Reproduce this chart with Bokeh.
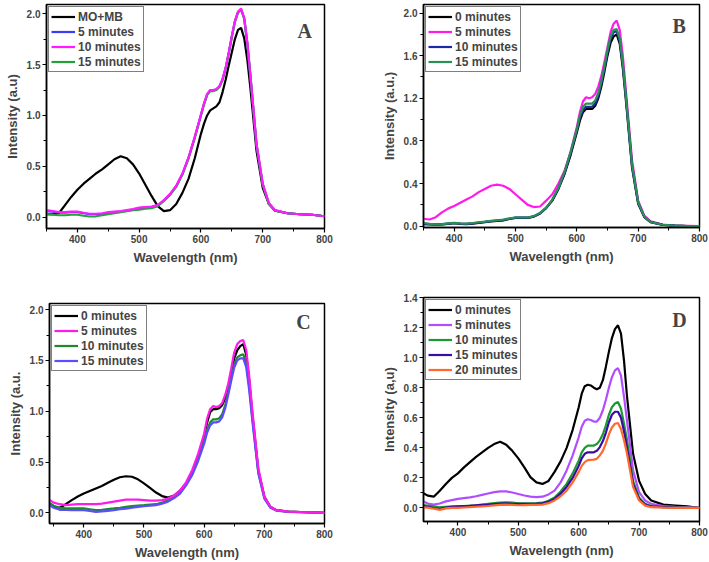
from bokeh.plotting import figure
from bokeh.layouts import column, row
from bokeh.models import Range1d, FixedTicker, PrintfTickFormatter, Legend, LegendItem, Label
from bokeh.embed import file_html
from bokeh.resources import INLINE

# ---------------- data ----------------
WL_AB = [350, 360, 370, 380, 390, 400, 410, 420, 430, 440, 450, 460, 470, 480, 490, 500, 510, 520,
         530, 540, 550, 560, 570, 580, 590,
         600, 605, 610, 615, 620, 625, 630, 635, 640, 645, 650,
         655, 660, 665, 670, 675, 680, 690, 700, 710, 720, 740, 760, 780, 800]
WL_CD = [340] + WL_AB

# Panel A
A_names = ["MO+MB", "5 minutes", "10 minutes", "15 minutes"]
A_momb = [0.03, 0.03, 0.04, 0.12, 0.20, 0.27, 0.33, 0.38, 0.43, 0.47, 0.52, 0.57, 0.60, 0.58, 0.52, 0.43, 0.32, 0.21,
          0.11, 0.06, 0.07, 0.13, 0.24, 0.38, 0.58,
          0.82, 0.92, 1.00, 1.05, 1.07, 1.09, 1.13, 1.23, 1.35, 1.49, 1.62,
          1.75, 1.84, 1.86, 1.76, 1.55, 1.27, 0.65, 0.29, 0.13, 0.065, 0.04, 0.03, 0.025, 0.01]
A_5 = [0.06, 0.055, 0.045, 0.045, 0.05, 0.05, 0.04, 0.03, 0.03, 0.035, 0.045, 0.05, 0.055, 0.065, 0.075, 0.09, 0.095, 0.10,
       0.115, 0.165, 0.225, 0.305, 0.425, 0.585, 0.785,
       1.005, 1.115, 1.205, 1.245, 1.245, 1.255, 1.285, 1.355, 1.465, 1.615, 1.775,
       1.925, 2.015, 2.04, 1.955, 1.715, 1.395, 0.715, 0.325, 0.135, 0.068, 0.04, 0.03, 0.025, 0.01]
A_10 = [0.07, 0.06, 0.05, 0.05, 0.055, 0.055, 0.045, 0.035, 0.035, 0.04, 0.05, 0.055, 0.06, 0.07, 0.08, 0.095, 0.10, 0.105,
        0.12, 0.17, 0.23, 0.31, 0.43, 0.59, 0.79,
        1.01, 1.12, 1.21, 1.25, 1.25, 1.26, 1.29, 1.36, 1.47, 1.62, 1.78,
        1.93, 2.02, 2.05, 1.96, 1.72, 1.40, 0.72, 0.33, 0.14, 0.07, 0.04, 0.03, 0.025, 0.01]
A_15 = [0.03, 0.025, 0.02, 0.02, 0.025, 0.025, 0.015, 0.008, 0.01, 0.02, 0.03, 0.04, 0.05, 0.06, 0.07, 0.075, 0.085, 0.09,
        0.11, 0.16, 0.22, 0.30, 0.42, 0.58, 0.78,
        1.00, 1.11, 1.20, 1.24, 1.24, 1.25, 1.28, 1.35, 1.46, 1.61, 1.77,
        1.92, 2.01, 2.04, 1.95, 1.71, 1.39, 0.71, 0.32, 0.13, 0.065, 0.04, 0.03, 0.025, 0.01]

# Panel B
B_names = ["0 minutes", "5 minutes", "10 minutes", "15 minutes"]
B_0 = [0.02, 0.018, 0.015, 0.016, 0.022, 0.028, 0.022, 0.02, 0.025, 0.032, 0.038, 0.045, 0.05, 0.055, 0.068, 0.078, 0.078, 0.078,
       0.09, 0.12, 0.17, 0.24, 0.35, 0.49, 0.67,
       0.88, 0.99, 1.07, 1.10, 1.10, 1.10, 1.13, 1.20, 1.31, 1.45, 1.60,
       1.72, 1.78, 1.80, 1.71, 1.48, 1.18, 0.55, 0.21, 0.085, 0.038, 0.013, 0.005, 0.002, 0.0]
B_5 = [0.07, 0.063, 0.085, 0.13, 0.165, 0.19, 0.22, 0.25, 0.28, 0.32, 0.35, 0.38, 0.39, 0.38, 0.35, 0.30, 0.25, 0.20,
       0.18, 0.185, 0.24, 0.30, 0.40, 0.52, 0.70,
       0.93, 1.07, 1.17, 1.21, 1.20, 1.21, 1.24, 1.31, 1.41, 1.54, 1.68,
       1.82, 1.90, 1.93, 1.84, 1.60, 1.27, 0.62, 0.24, 0.10, 0.047, 0.016, 0.006, 0.003, 0.0]
B_10 = [0.025, 0.02, 0.017, 0.018, 0.024, 0.03, 0.024, 0.022, 0.027, 0.034, 0.04, 0.047, 0.053, 0.058, 0.07, 0.08, 0.08, 0.08,
        0.092, 0.122, 0.172, 0.245, 0.355, 0.50, 0.69,
        0.90, 1.02, 1.09, 1.12, 1.12, 1.12, 1.15, 1.22, 1.34, 1.48, 1.63,
        1.76, 1.82, 1.83, 1.74, 1.51, 1.21, 0.57, 0.22, 0.088, 0.04, 0.014, 0.005, 0.002, 0.0]
B_15 = [0.03, 0.022, 0.018, 0.02, 0.026, 0.032, 0.026, 0.024, 0.03, 0.037, 0.043, 0.05, 0.056, 0.062, 0.073, 0.082, 0.082, 0.082,
        0.095, 0.125, 0.175, 0.25, 0.36, 0.51, 0.70,
        0.91, 1.04, 1.12, 1.15, 1.15, 1.15, 1.18, 1.25, 1.36, 1.50, 1.65,
        1.78, 1.84, 1.85, 1.76, 1.53, 1.22, 0.58, 0.225, 0.09, 0.04, 0.014, 0.005, 0.002, 0.0]

# Panel C
C_names = ["0 minutes", "5 minutes", "10 minutes", "15 minutes"]
C_0 = [0.09, 0.06, 0.05, 0.085, 0.125, 0.16, 0.19, 0.215, 0.24, 0.265, 0.295, 0.325, 0.35, 0.36, 0.355, 0.33, 0.29, 0.245,
       0.20, 0.165, 0.15, 0.17, 0.22, 0.29, 0.39, 0.55,
       0.75, 0.89, 0.99, 1.02, 1.02, 1.03, 1.06, 1.13, 1.24, 1.38, 1.52,
       1.60, 1.64, 1.66, 1.55, 1.30, 0.98, 0.42, 0.16, 0.06, 0.026, 0.012, 0.008, 0.005, 0.0]
C_5 = [0.14, 0.10, 0.085, 0.075, 0.08, 0.085, 0.085, 0.085, 0.085, 0.09, 0.10, 0.11, 0.12, 0.13, 0.13, 0.13, 0.125, 0.12,
       0.12, 0.125, 0.14, 0.17, 0.22, 0.30, 0.42, 0.58,
       0.78, 0.93, 1.02, 1.05, 1.04, 1.05, 1.08, 1.16, 1.27, 1.42, 1.58,
       1.66, 1.69, 1.70, 1.60, 1.34, 1.01, 0.44, 0.16, 0.06, 0.026, 0.012, 0.008, 0.005, 0.0]
C_10 = [0.11, 0.07, 0.05, 0.045, 0.043, 0.043, 0.043, 0.035, 0.026, 0.03, 0.037, 0.043, 0.05, 0.058, 0.066, 0.072, 0.075, 0.08,
        0.085, 0.10, 0.125, 0.16, 0.21, 0.29, 0.39, 0.54,
        0.71, 0.82, 0.89, 0.92, 0.92, 0.93, 0.97, 1.06, 1.19, 1.33, 1.46,
        1.53, 1.55, 1.56, 1.47, 1.24, 0.94, 0.40, 0.15, 0.055, 0.024, 0.011, 0.007, 0.004, 0.0]
C_15 = [0.085, 0.05, 0.03, 0.028, 0.026, 0.026, 0.026, 0.018, 0.01, 0.015, 0.02, 0.026, 0.035, 0.042, 0.05, 0.058, 0.066, 0.07,
        0.075, 0.09, 0.11, 0.145, 0.19, 0.27, 0.37, 0.51,
        0.68, 0.79, 0.86, 0.89, 0.89, 0.90, 0.94, 1.03, 1.16, 1.30, 1.43,
        1.50, 1.52, 1.52, 1.43, 1.20, 0.91, 0.39, 0.14, 0.05, 0.022, 0.01, 0.006, 0.004, 0.0]

# Panel D
D_names = ["0 minutes", "5 minutes", "10 minutes", "15 minutes", "20 minutes"]
D_0 = [0.105, 0.082, 0.075, 0.115, 0.16, 0.20, 0.23, 0.27, 0.305, 0.34, 0.37, 0.40, 0.425, 0.44, 0.42, 0.38, 0.33, 0.27,
       0.205, 0.17, 0.16, 0.18, 0.24, 0.31, 0.40, 0.52,
       0.67, 0.76, 0.81, 0.82, 0.815, 0.80, 0.79, 0.80, 0.85, 0.94, 1.04,
       1.13, 1.19, 1.215, 1.16, 0.98, 0.74, 0.36, 0.18, 0.093, 0.05, 0.022, 0.016, 0.01, 0.0]
D_5 = [0.05, 0.03, 0.022, 0.03, 0.044, 0.052, 0.06, 0.065, 0.07, 0.078, 0.087, 0.096, 0.105, 0.11, 0.11, 0.103, 0.093, 0.083,
       0.075, 0.072, 0.075, 0.09, 0.115, 0.17, 0.25, 0.35,
       0.47, 0.54, 0.58, 0.59, 0.585, 0.575, 0.575, 0.60, 0.65, 0.72, 0.80,
       0.87, 0.915, 0.93, 0.88, 0.74, 0.58, 0.25, 0.105, 0.05, 0.027, 0.013, 0.008, 0.005, 0.0]
D_10 = [0.022, 0.015, 0.01, 0.005, 0.008, 0.01, 0.01, 0.012, 0.015, 0.018, 0.022, 0.027, 0.032, 0.036, 0.038, 0.035, 0.031, 0.031,
        0.031, 0.032, 0.035, 0.048, 0.07, 0.11, 0.16, 0.23,
        0.315, 0.37, 0.40, 0.415, 0.415, 0.415, 0.425, 0.45, 0.49, 0.55, 0.62,
        0.67, 0.695, 0.705, 0.66, 0.56, 0.45, 0.18, 0.07, 0.027, 0.013, 0.006, 0.004, 0.002, 0.0]
D_15 = [0.013, 0.008, 0.0, -0.007, 0.003, 0.008, 0.01, 0.012, 0.014, 0.017, 0.02, 0.022, 0.026, 0.029, 0.03, 0.028, 0.027, 0.027,
        0.028, 0.029, 0.031, 0.042, 0.06, 0.095, 0.14, 0.20,
        0.28, 0.33, 0.36, 0.37, 0.37, 0.37, 0.38, 0.405, 0.445, 0.50, 0.57,
        0.62, 0.64, 0.64, 0.60, 0.51, 0.40, 0.16, 0.06, 0.022, 0.01, 0.005, 0.003, 0.001, 0.0]
D_20 = [0.005, 0.002, -0.005, -0.013, -0.003, 0.0, 0.0, 0.003, 0.005, 0.008, 0.01, 0.013, 0.017, 0.02, 0.022, 0.02, 0.018, 0.019,
        0.02, 0.021, 0.022, 0.032, 0.05, 0.078, 0.115, 0.17,
        0.24, 0.28, 0.305, 0.318, 0.32, 0.322, 0.327, 0.35, 0.38, 0.43, 0.49,
        0.535, 0.56, 0.565, 0.525, 0.45, 0.36, 0.14, 0.05, 0.016, 0.005, 0.002, 0.001, 0.0, 0.0]

X_TICKS = [400, 500, 600, 700, 800]
X_MINOR = [350, 450, 550, 650, 750]
A_YTICKS = [0.0, 0.5, 1.0, 1.5, 2.0]
B_YTICKS = [0.0, 0.4, 0.8, 1.2, 1.6, 2.0]
C_YTICKS = [0.0, 0.5, 1.0, 1.5, 2.0]
D_YTICKS = [0.0, 0.2, 0.4, 0.6, 0.8, 1.0, 1.2, 1.4]

SANS = "Liberation Sans"
SERIF = "Liberation Serif"


def make_panel(width, height, borders, xr, yr, yticks, yminor, ylabel):
    l, r, t, b = borders
    p = figure(width=width, height=height, output_backend="svg", toolbar_location=None,
               x_range=Range1d(*xr), y_range=Range1d(*yr),
               min_border_left=l, min_border_right=r, min_border_top=t, min_border_bottom=b)
    p.grid.visible = False
    p.outline_line_color = "black"
    p.outline_line_width = 1.5
    p.background_fill_color = "white"
    p.border_fill_color = "white"
    p.xaxis.ticker = FixedTicker(ticks=X_TICKS, minor_ticks=X_MINOR)
    p.yaxis.ticker = FixedTicker(ticks=yticks, minor_ticks=yminor)
    p.xaxis.formatter = PrintfTickFormatter(format="%d")
    p.yaxis.formatter = PrintfTickFormatter(format="%.1f")
    for ax in (p.xaxis, p.yaxis):
        ax.axis_line_width = 1.5
        ax.major_tick_out = 4
        ax.major_tick_in = 0
        ax.minor_tick_out = 3
        ax.minor_tick_in = 0
        ax.major_tick_line_width = 1.2
        ax.minor_tick_line_width = 1.0
        ax.major_label_text_font = SANS
        ax.major_label_text_font_style = "bold"
        ax.major_label_text_font_size = "10px"
        ax.major_label_standoff = 2
        ax.axis_label_text_font = SANS
        ax.axis_label_text_font_style = "bold"
        ax.axis_label_text_font_size = "13px"
        ax.axis_label_standoff = 4
    p.xaxis.axis_label = "Wavelength (nm)"
    p.yaxis.axis_label = ylabel
    return p


def add_series(p, wl, series, names, colors, draw_order, letter, letter_pos):
    renderers = {}
    for i in draw_order:
        renderers[i] = p.line(wl, series[i], line_color=colors[i], line_width=2.2)
    items = [LegendItem(label=names[i], renderers=[renderers[i]]) for i in range(len(names))]
    leg = Legend(items=items, location="top_left", margin=2, padding=2, spacing=0,
                 glyph_width=24, glyph_height=15, label_height=15, label_standoff=3,
                 label_text_font=SANS, label_text_font_style="bold", label_text_font_size="12px",
                 border_line_color="black", border_line_width=1, background_fill_alpha=1)
    p.add_layout(leg)
    p.add_layout(Label(x=letter_pos[0], y=letter_pos[1], text=letter, text_font=SERIF,
                       text_font_style="bold", text_font_size="20px",
                       text_align="center", text_baseline="middle"))


pA = make_panel(354, 280, (46, 30, 4, 52), (350, 800), (-0.11, 2.09), A_YTICKS,
                [0.25, 0.75, 1.25, 1.75], "Intensity (a.u)")
add_series(pA, WL_AB, [A_momb, A_5, A_10, A_15], A_names,
           ["black", "#3b3bff", "#ff1aff", "#22a03a"], [0, 1, 3, 2], "A", (768, 1.83))

pB = make_panel(355, 280, (69, 10, 4, 53), (350, 800), (-0.012, 2.08), B_YTICKS,
                [0.2, 0.6, 1.0, 1.4, 1.8], "Intensity (a.u.)")
add_series(pB, WL_AB, [B_0, B_5, B_10, B_15], B_names,
           ["black", "#ff1aea", "#1c2aa8", "#2a8f55"], [1, 0, 2, 3], "B", (767, 1.88))

pC = make_panel(354, 282, (49, 30, 23, 39), (343, 800), (-0.105, 2.06), C_YTICKS,
                [0.25, 0.75, 1.25, 1.75], "Intensity (a.u.")
add_series(pC, WL_CD, [C_0, C_5, C_10, C_15], C_names,
           ["black", "#ff1aea", "#1a8a2a", "#5a4dff"], [0, 2, 3, 1], "C", (765, 1.876))

pD = make_panel(355, 282, (69, 10, 17, 41), (343, 800), (-0.09, 1.40), D_YTICKS,
                [0.1, 0.3, 0.5, 0.7, 0.9, 1.1, 1.3], "Intensity (a,u)")
add_series(pD, WL_CD, [D_0, D_5, D_10, D_15, D_20], D_names,
           ["black", "#b24dff", "#1a9a30", "#3a0ca3", "#ff6a2a"], [0, 1, 2, 3, 4], "D", (767, 1.25))

layout = column(row(column(pA), column(pB)), row(column(pC), column(pD)))

open("out.html", "w").write(file_html(layout, INLINE))
